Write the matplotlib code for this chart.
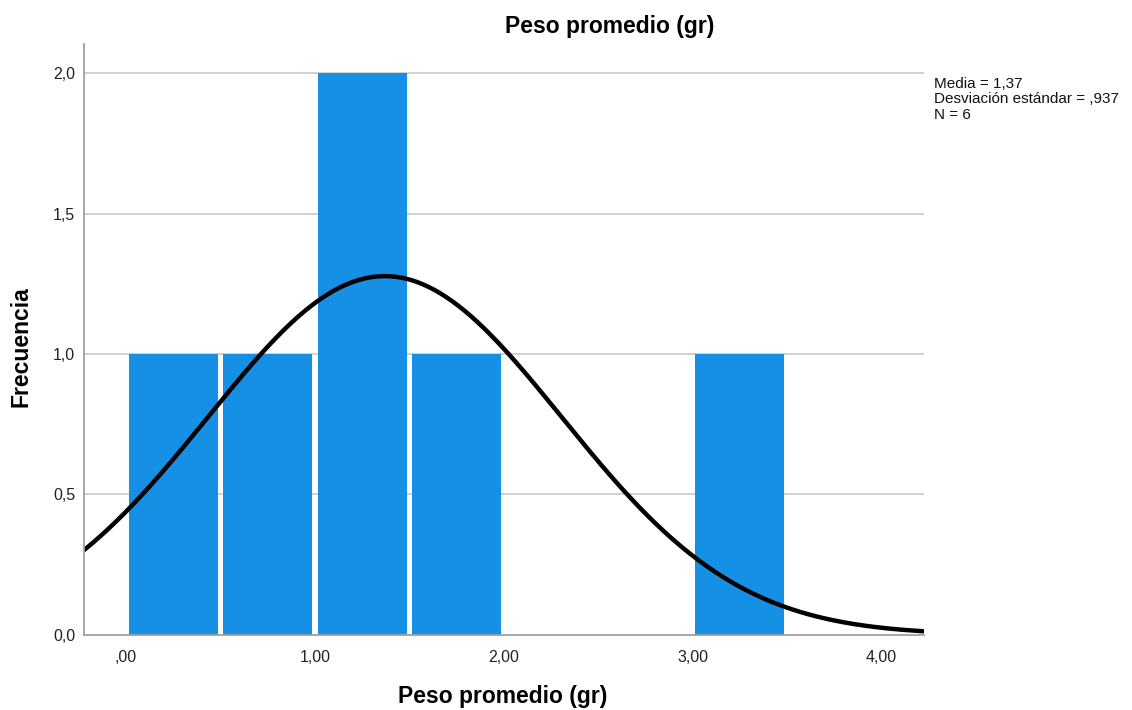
import numpy as np
import matplotlib.pyplot as plt

plt.rcParams['font.family'] = ['Liberation Sans', 'DejaVu Sans']

# histogram of the average weight (gr)
bin_left = [0.0, 0.5, 1.0, 1.5, 3.0]
counts = [1, 1, 2, 1, 1]
bin_width = 0.5
media = 1.37
desv = 0.937
n = 6
y_ticks = [0.0, 0.5, 1.0, 1.5, 2.0]
y_labels = ['0,0', '0,5', '1,0', '1,5', '2,0']
x_ticks = [0, 1, 2, 3, 4]
x_labels = [',00', '1,00', '2,00', '3,00', '4,00']

fig = plt.figure(figsize=(11.32, 7.10), dpi=100)
ax = fig.add_axes([0.0738, 0.106, 0.7425, 0.832])

xmin, xmax = -0.225, 4.225
ax.set_xlim(xmin, xmax)
ax.set_ylim(0, 2.104)

for yv in y_ticks[1:]:
    ax.axhline(yv, color='#c8c8c8', lw=1.2, zorder=0)

# small white gap between neighbouring bars
gap = 0.028
ax.bar(np.array(bin_left) + gap / 2, counts, width=bin_width - gap, align='edge',
       color='#1590e5', linewidth=0, zorder=2)

# normal curve scaled to the counts
xs = np.linspace(xmin, xmax, 400)
ys = n * bin_width / (desv * np.sqrt(2 * np.pi)) * np.exp(-0.5 * ((xs - media) / desv) ** 2)
ax.plot(xs, ys, color='black', lw=3.2, zorder=3, solid_capstyle='butt')

for s in ['top', 'right']:
    ax.spines[s].set_visible(False)
for s in ['left', 'bottom']:
    ax.spines[s].set_color('#a0a0a0')
    ax.spines[s].set_linewidth(1.3)
    ax.spines[s].set_zorder(4)

ax.set_yticks(y_ticks)
ax.set_yticklabels(y_labels, fontsize=11.5)
ax.set_xticks(x_ticks)
ax.set_xticklabels(x_labels, fontsize=11.5)
ax.tick_params(length=0, colors='#222222', pad=6)
ax.tick_params(axis='x', pad=11)

fig.text(610 / 1132, 1 - 27 / 710, 'Peso promedio (gr)', ha='center', va='center',
         fontsize=16.5, fontweight='bold')
fig.text(503 / 1132, 1 - 697 / 710, 'Peso promedio (gr)', ha='center', va='center',
         fontsize=16.5, fontweight='bold')
fig.text(21 / 1132, 1 - 347 / 710, 'Frecuencia', ha='center', va='center',
         rotation=90, fontsize=16.5, fontweight='bold')

stats = 'Media = 1,37\nDesviación estándar = ,937\nN = 6'
fig.text(934 / 1132, 1 - 77 / 710, stats, ha='left', va='top', fontsize=11,
         linespacing=1.12, color='#111111')

fig.savefig('out.png', dpi=100)
